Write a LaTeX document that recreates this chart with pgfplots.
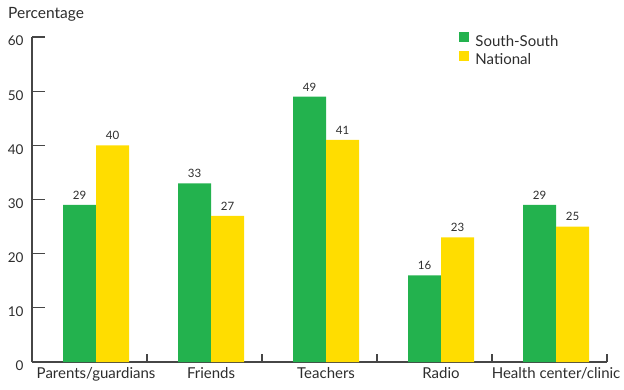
\documentclass[border=0pt]{standalone}
\usepackage{pgfplots}
\pgfplotsset{compat=1.18}
\usepackage{fontspec}
\setmainfont{Lato}
\definecolor{ssgreen}{RGB}{35,178,78}
\definecolor{natyellow}{RGB}{255,221,0}
\definecolor{txt}{RGB}{45,45,45}
\definecolor{axc}{RGB}{70,70,70}
\begin{document}
\begin{tikzpicture}
\useasboundingbox (0pt,0pt) rectangle (624pt,389pt);
\node[anchor=base west, font=\fontsize{15.5}{17}\selectfont, text=txt, inner sep=0] at (8pt,370pt) {Percentage};
\begin{axis}[
  at={(32pt,27pt)}, anchor=south west,
  scale only axis, width=575pt, height=325pt,
  xmin=-0.557, xmax=4.443, ymin=0, ymax=60,
  axis x line*=bottom, axis y line*=left,
  axis line style={draw=axc, line width=1.1pt},
  ybar=0pt, bar width=0.287,
  tick align=inside,
  /pgf/number format/assume math mode=true,
  xtick={0.443,1.443,2.443,3.443,4.443}, xticklabels={},
  xtick style={draw=axc, line width=1.1pt, /pgfplots/major tick length=8pt},
  extra x ticks={0,1,2,3,4},
  extra x tick labels={Parents/guardians,Friends,Teachers,Radio,Health center/clinic},
  extra x tick style={tick style={draw=none}},
  x tick label style={font=\fontsize{15}{17}\selectfont, text=txt, yshift=-2pt},
  ytick={0,10,...,60},
  ytick style={draw=axc, line width=1.1pt, /pgfplots/major tick length=13pt},
  y tick label style={font=\fontsize{13.5}{15}\selectfont, text=txt, xshift=-5pt, yshift=-4pt},
  nodes near coords,
  nodes near coords style={font=\fontsize{11.5}{13}\selectfont, text=txt, yshift=2pt},
  legend style={draw=none, fill=none, at={(0.743,1.015)}, anchor=north west,
    font=\fontsize{15}{17}\selectfont, text=txt, row sep=1pt, inner sep=0pt,
    nodes={inner xsep=6pt}},
  legend cell align=left,
  legend image code/.code={\fill[#1] (0pt,-1pt) rectangle (10pt,9pt);},
]
\addplot[fill=ssgreen, draw=none] coordinates {(0,29) (1,33) (2,49) (3,16) (4,29)};
\addplot[fill=natyellow, draw=none] coordinates {(0,40) (1,27) (2,41) (3,23) (4,25)};
\legend{South-South, National}
\end{axis}
\end{tikzpicture}
\end{document}
